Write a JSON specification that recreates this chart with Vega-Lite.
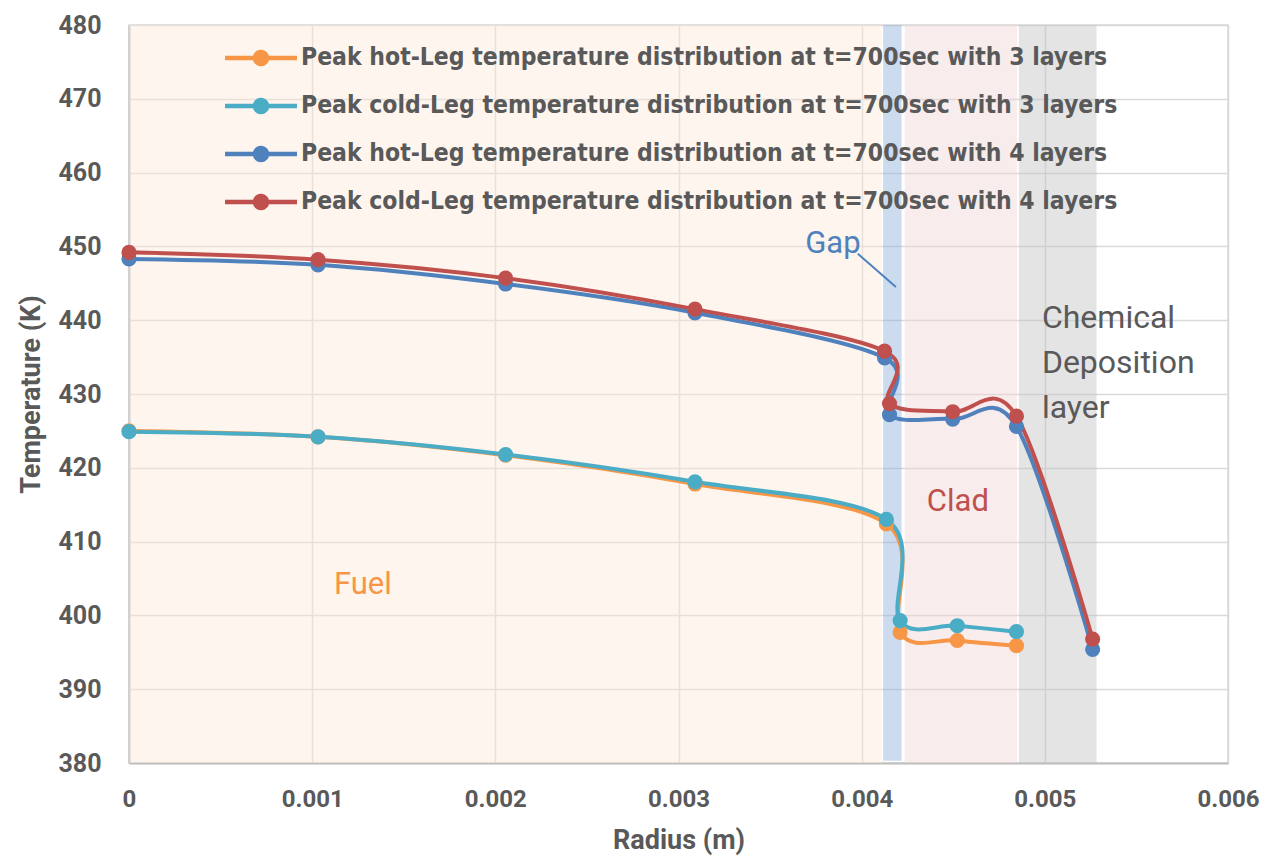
{
  "$schema": "https://vega.github.io/schema/vega-lite/v6.json",
  "width": 1099,
  "height": 738,
  "autosize": "none",
  "padding": {"left": 129, "top": 25, "right": 38, "bottom": 95},
  "background": "white",
  "config": {
    "view": {"stroke": "#D9D9D9", "strokeWidth": 1.5},
    "font": "Roboto"
  },
  "datasets": {
    "bands": [
      {"band": "Fuel", "start": 0, "end": 0.004108, "lo": 380, "hi": 480},
      {"band": "Gap", "start": 0.004117, "end": 0.004218, "lo": 380.3, "hi": 480},
      {"band": "Clad", "start": 0.004235, "end": 0.004848, "lo": 380, "hi": 480},
      {"band": "Chemical Deposition layer", "start": 0.004858, "end": 0.005282, "lo": 380, "hi": 480}
    ],
    "series": [
      {"series": "Peak hot-Leg temperature distribution at t=700sec with 3 layers", "r": 0, "T": 425.0},
      {"series": "Peak hot-Leg temperature distribution at t=700sec with 3 layers", "r": 0.001032, "T": 424.2},
      {"series": "Peak hot-Leg temperature distribution at t=700sec with 3 layers", "r": 0.002056, "T": 421.7},
      {"series": "Peak hot-Leg temperature distribution at t=700sec with 3 layers", "r": 0.00309, "T": 417.8},
      {"series": "Peak hot-Leg temperature distribution at t=700sec with 3 layers", "r": 0.004135, "T": 412.4},
      {"series": "Peak hot-Leg temperature distribution at t=700sec with 3 layers", "r": 0.00421, "T": 397.7},
      {"series": "Peak hot-Leg temperature distribution at t=700sec with 3 layers", "r": 0.004522, "T": 396.6},
      {"series": "Peak hot-Leg temperature distribution at t=700sec with 3 layers", "r": 0.004845, "T": 395.9},
      {"series": "Peak cold-Leg temperature distribution at t=700sec with 3 layers", "r": 0, "T": 424.9},
      {"series": "Peak cold-Leg temperature distribution at t=700sec with 3 layers", "r": 0.001032, "T": 424.2},
      {"series": "Peak cold-Leg temperature distribution at t=700sec with 3 layers", "r": 0.002056, "T": 421.8},
      {"series": "Peak cold-Leg temperature distribution at t=700sec with 3 layers", "r": 0.00309, "T": 418.1},
      {"series": "Peak cold-Leg temperature distribution at t=700sec with 3 layers", "r": 0.004135, "T": 413.0},
      {"series": "Peak cold-Leg temperature distribution at t=700sec with 3 layers", "r": 0.00421, "T": 399.3},
      {"series": "Peak cold-Leg temperature distribution at t=700sec with 3 layers", "r": 0.004522, "T": 398.6},
      {"series": "Peak cold-Leg temperature distribution at t=700sec with 3 layers", "r": 0.004845, "T": 397.8},
      {"series": "Peak hot-Leg temperature distribution at t=700sec with 4 layers", "r": 0, "T": 448.3},
      {"series": "Peak hot-Leg temperature distribution at t=700sec with 4 layers", "r": 0.001032, "T": 447.5},
      {"series": "Peak hot-Leg temperature distribution at t=700sec with 4 layers", "r": 0.002056, "T": 444.9},
      {"series": "Peak hot-Leg temperature distribution at t=700sec with 4 layers", "r": 0.00309, "T": 441.0},
      {"series": "Peak hot-Leg temperature distribution at t=700sec with 4 layers", "r": 0.004125, "T": 434.9},
      {"series": "Peak hot-Leg temperature distribution at t=700sec with 4 layers", "r": 0.004152, "T": 427.2},
      {"series": "Peak hot-Leg temperature distribution at t=700sec with 4 layers", "r": 0.004497, "T": 426.6},
      {"series": "Peak hot-Leg temperature distribution at t=700sec with 4 layers", "r": 0.004845, "T": 425.6},
      {"series": "Peak hot-Leg temperature distribution at t=700sec with 4 layers", "r": 0.005261, "T": 395.4},
      {"series": "Peak cold-Leg temperature distribution at t=700sec with 4 layers", "r": 0, "T": 449.2},
      {"series": "Peak cold-Leg temperature distribution at t=700sec with 4 layers", "r": 0.001032, "T": 448.2},
      {"series": "Peak cold-Leg temperature distribution at t=700sec with 4 layers", "r": 0.002056, "T": 445.7},
      {"series": "Peak cold-Leg temperature distribution at t=700sec with 4 layers", "r": 0.00309, "T": 441.5},
      {"series": "Peak cold-Leg temperature distribution at t=700sec with 4 layers", "r": 0.004125, "T": 435.8},
      {"series": "Peak cold-Leg temperature distribution at t=700sec with 4 layers", "r": 0.004152, "T": 428.7},
      {"series": "Peak cold-Leg temperature distribution at t=700sec with 4 layers", "r": 0.004497, "T": 427.6},
      {"series": "Peak cold-Leg temperature distribution at t=700sec with 4 layers", "r": 0.004845, "T": 427.0},
      {"series": "Peak cold-Leg temperature distribution at t=700sec with 4 layers", "r": 0.005261, "T": 396.8}
    ]
  },
  "layer": [
    {
      "data": {"name": "bands"},
      "mark": {"type": "rect", "fillOpacity": 0.45},
      "encoding": {
        "x": {
          "field": "start", "type": "quantitative",
          "scale": {"domain": [0, 0.006], "nice": false},
          "axis": {
            "values": [0, 0.001, 0.002, 0.003, 0.004, 0.005, 0.006],
            "format": ".3~f",
            "title": "Radius (m)",
            "grid": true, "gridColor": "#D9D9D9", "gridWidth": 1.5,
            "ticks": false, "labelFlush": false,
            "domainColor": "#BFBFBF", "domainWidth": 2,
            "labelFont": "Roboto", "labelFontSize": 24, "labelFontWeight": "bold", "labelColor": "#595959",
            "labelPadding": 24,
            "titleFont": "Roboto", "titleFontSize": 27, "titleFontWeight": "bold", "titleColor": "#595959",
            "titlePadding": 16
          }
        },
        "x2": {"field": "end"},
        "y": {
          "field": "lo", "type": "quantitative",
          "scale": {"domain": [380, 480], "nice": false, "zero": false},
          "axis": {
            "values": [380, 390, 400, 410, 420, 430, 440, 450, 460, 470, 480],
            "title": "Temperature (K)",
            "grid": true, "gridColor": "#D9D9D9", "gridWidth": 1.5,
            "ticks": false, "labelFlush": false,
            "domainColor": "#BFBFBF", "domainWidth": 2,
            "labelFont": "Roboto", "labelFontSize": 25, "labelFontWeight": "bold", "labelColor": "#595959",
            "labelPadding": 28,
            "titleFont": "Roboto", "titleFontSize": 27, "titleFontWeight": "bold", "titleColor": "#595959",
            "titlePadding": 12
          }
        },
        "y2": {"field": "hi"},
        "fill": {
          "field": "band", "type": "nominal",
          "scale": {
            "domain": ["Fuel", "Gap", "Clad", "Chemical Deposition layer"],
            "range": ["#FBE9D9", "#8EB1D9", "#EFD5D5", "#C3C3C3"]
          },
          "legend": null
        }
      }
    },
    {
      "data": {"values": [{"r": 0.003979, "T": 449.0, "r2": 0.004187, "T2": 444.5}]},
      "mark": {"type": "rule", "color": "#4F81BD", "strokeWidth": 2},
      "encoding": {
        "x": {"field": "r", "type": "quantitative"},
        "y": {"field": "T", "type": "quantitative"},
        "x2": {"field": "r2"},
        "y2": {"field": "T2"}
      }
    },
    {
      "data": {"name": "series"},
      "mark": {"type": "line", "interpolate": "cardinal", "strokeWidth": 4},
      "encoding": {
        "x": {"field": "r", "type": "quantitative"},
        "y": {"field": "T", "type": "quantitative"},
        "color": {
          "field": "series", "type": "nominal",
          "scale": {
            "domain": [
              "Peak hot-Leg temperature distribution at t=700sec with 3 layers",
              "Peak cold-Leg temperature distribution at t=700sec with 3 layers",
              "Peak hot-Leg temperature distribution at t=700sec with 4 layers",
              "Peak cold-Leg temperature distribution at t=700sec with 4 layers"
            ],
            "range": ["#F79646", "#4BACC6", "#4F81BD", "#C0504D"]
          },
          "legend": {
            "orient": "none", "legendX": 96, "legendY": -3,
            "title": null, "padding": 0,
            "symbolType": "M-1,-0.06L1,-0.06L1,0.06L-1,0.06Z M-0.23,0A0.23,0.23 0 1,1 0.23,0A0.23,0.23 0 1,1 -0.23,0Z",
            "symbolSize": 5184,
            "labelFont": "'DejaVu Sans Condensed', Roboto", "labelFontSize": 24.5, "labelFontWeight": "bold", "labelColor": "#595959",
            "labelLimit": 0, "labelOffset": 4,
            "rowPadding": -4,
            "encode": {"symbols": {"update": {"fill": {"scale": "color", "field": "value"}, "strokeWidth": {"value": 0}, "opacity": {"value": 1}, "fillOpacity": {"value": 1}}}}
          }
        }
      }
    },
    {
      "data": {"name": "series"},
      "mark": {"type": "point", "filled": true, "size": 230, "opacity": 1},
      "encoding": {
        "x": {"field": "r", "type": "quantitative"},
        "y": {"field": "T", "type": "quantitative"},
        "color": {
          "field": "series", "type": "nominal",
          "legend": {
            "orient": "none", "legendX": 96, "legendY": -3,
            "title": null, "padding": 0,
            "symbolType": "M-1,-0.06L1,-0.06L1,0.06L-1,0.06Z M-0.23,0A0.23,0.23 0 1,1 0.23,0A0.23,0.23 0 1,1 -0.23,0Z",
            "symbolSize": 5184,
            "labelFont": "'DejaVu Sans Condensed', Roboto", "labelFontSize": 24.5, "labelFontWeight": "bold", "labelColor": "#595959",
            "labelLimit": 0, "labelOffset": 4,
            "rowPadding": -4,
            "encode": {"symbols": {"update": {"fill": {"scale": "color", "field": "value"}, "strokeWidth": {"value": 0}, "opacity": {"value": 1}, "fillOpacity": {"value": 1}}}}
          }
        }
      }
    },
    {
      "data": {"values": [{"label": "Fuel", "r": 0.001277, "T": 404.1}]},
      "mark": {"type": "text", "font": "Roboto", "fontSize": 31, "color": "#F79646", "align": "center", "baseline": "middle"},
      "encoding": {"x": {"field": "r", "type": "quantitative"}, "y": {"field": "T", "type": "quantitative"}, "text": {"field": "label"}}
    },
    {
      "data": {"values": [{"label": "Clad", "r": 0.004525, "T": 415.4}]},
      "mark": {"type": "text", "font": "Roboto", "fontSize": 31, "color": "#C0504D", "align": "center", "baseline": "middle"},
      "encoding": {"x": {"field": "r", "type": "quantitative"}, "y": {"field": "T", "type": "quantitative"}, "text": {"field": "label"}}
    },
    {
      "data": {"values": [{"label": "Gap", "r": 0.003843, "T": 450.3}]},
      "mark": {"type": "text", "font": "Roboto", "fontSize": 31, "color": "#4F81BD", "align": "center", "baseline": "middle"},
      "encoding": {"x": {"field": "r", "type": "quantitative"}, "y": {"field": "T", "type": "quantitative"}, "text": {"field": "label"}}
    },
    {
      "data": {"values": [{"label": ["Chemical", "Deposition", "layer"], "r": 0.004984, "T": 440.3}]},
      "mark": {"type": "text", "font": "Roboto", "fontSize": 32, "color": "#595959", "align": "left", "baseline": "middle", "lineHeight": 45},
      "encoding": {"x": {"field": "r", "type": "quantitative"}, "y": {"field": "T", "type": "quantitative"}, "text": {"field": "label"}}
    }
  ]
}
